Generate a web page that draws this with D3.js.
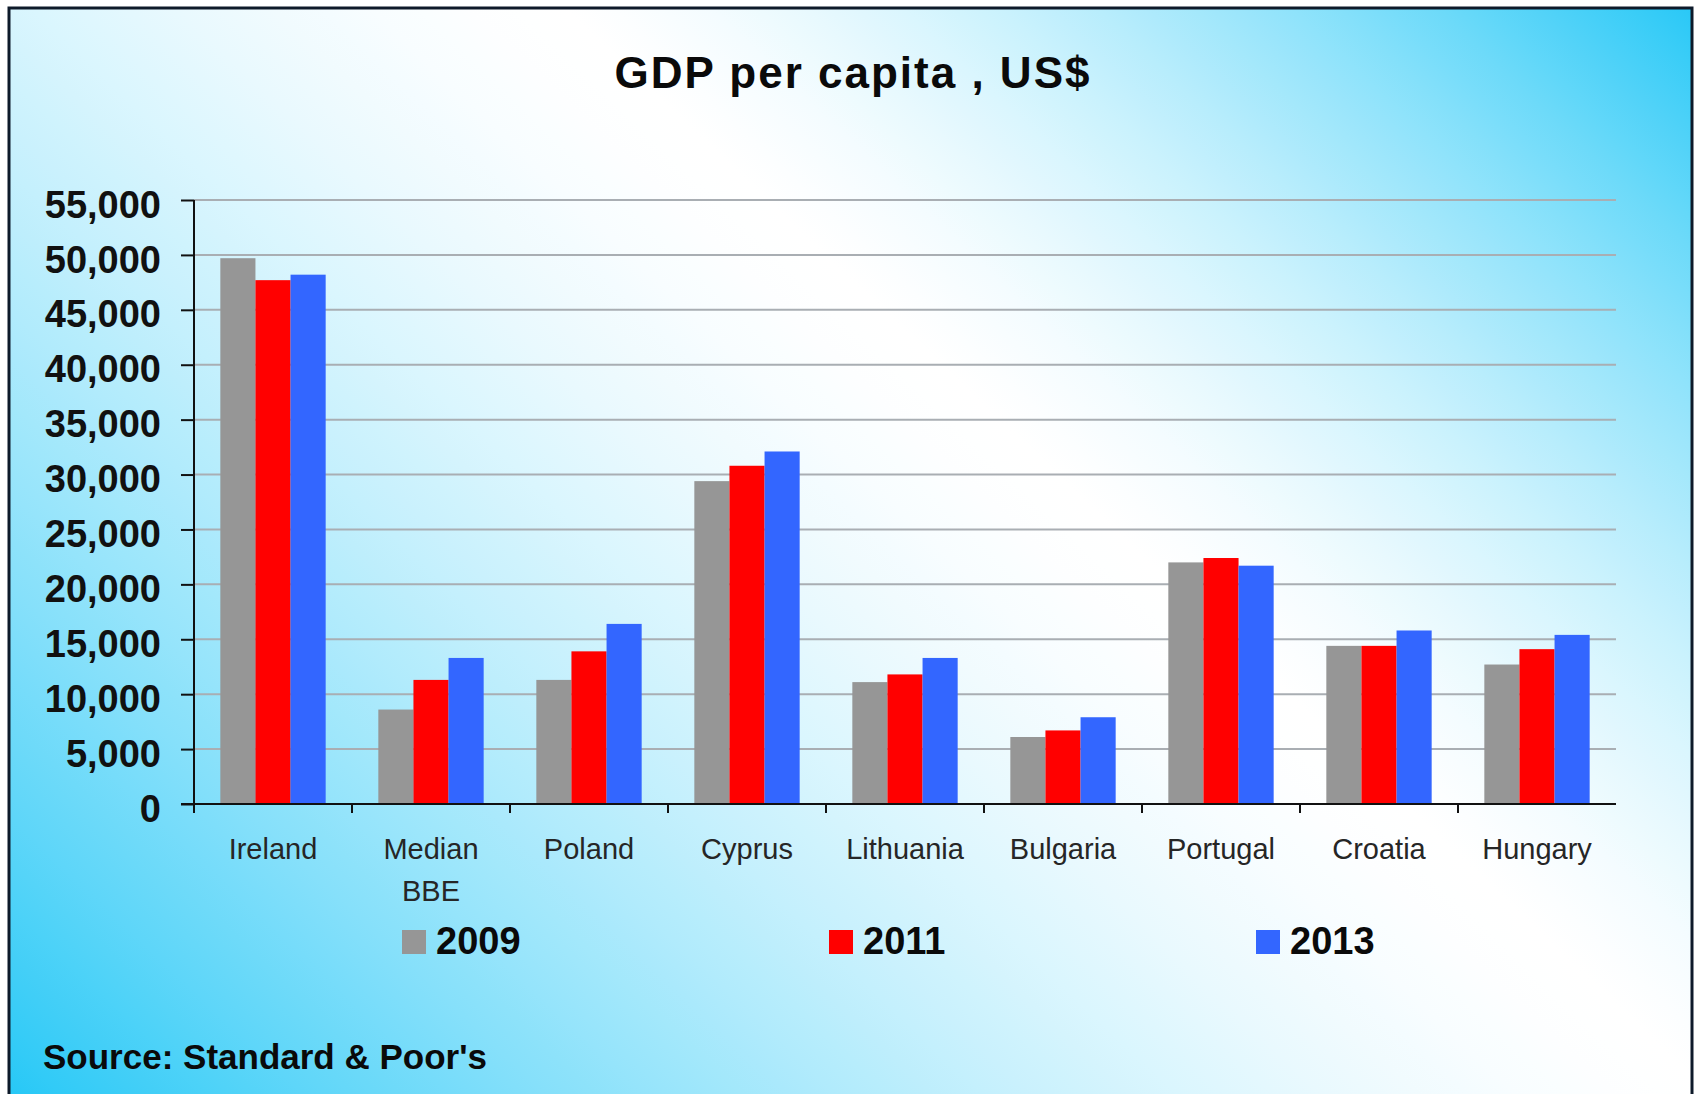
<!DOCTYPE html>
<html>
<head>
<meta charset="utf-8">
<script src="https://cdn.jsdelivr.net/npm/d3@7"></script>
<style>
  html, body { margin: 0; padding: 0; background: #ffffff; }
  svg { display: block; }
  text { font-family: "Liberation Sans", Arial, sans-serif; }
</style>
</head>
<body>
<svg id="chart" width="1696" height="1094"></svg>
<script>
// GDP per capita (US$) by country, three survey years
const categories = ["Ireland", "Median BBE", "Poland", "Cyprus", "Lithuania", "Bulgaria", "Portugal", "Croatia", "Hungary"];
const years = ["2009", "2011", "2013"];
const gdp2009 = [49700, 8600, 11300, 29400, 11100, 6100, 22000, 14400, 12700];
const gdp2011 = [47700, 11300, 13900, 30800, 11800, 6700, 22400, 14400, 14100];
const gdp2013 = [48200, 13300, 16400, 32100, 13300, 7900, 21700, 15800, 15400];
const yTicks = [0, 5000, 10000, 15000, 20000, 25000, 30000, 35000, 40000, 45000, 50000, 55000];
const seriesColors = ["#969696", "#ff0000", "#3366ff"];

const seriesValues = [gdp2009, gdp2011, gdp2013];
const rows = categories.map((c, i) => ({ category: c, values: years.map((y, j) => ({ year: y, value: seriesValues[j][i] })) }));

const svg = d3.select("#chart");
const W = 1696, H = 1094;

// ---- background panel: white diagonal band fading to cyan toward
// the bottom-left and top-right corners
const defs = svg.append("defs");
const p0 = [541, 0];                 // a point on the white band
const n = [0.688, -0.726];           // unit normal of the band, toward top-right
const sLow = -1190, sHigh = 810;     // distances where the fill is fully cyan
const grad = defs.append("linearGradient")
  .attr("id", "bg")
  .attr("gradientUnits", "userSpaceOnUse")
  .attr("x1", p0[0] + sLow * n[0]).attr("y1", p0[1] + sLow * n[1])
  .attr("x2", p0[0] + sHigh * n[0]).attr("y2", p0[1] + sHigh * n[1]);
const tw = -sLow / (sHigh - sLow);
const cyan = "#1fc6f6";
const mix = d3.interpolateRgb("#ffffff", cyan);
d3.range(0, 61).forEach(k => {
  const t = k / 60;
  const d = t < tw ? (tw - t) / tw : (t - tw) / (1 - tw);
  grad.append("stop").attr("offset", t).attr("stop-color", mix(Math.pow(d, 1.5)));
});

svg.append("rect")
  .attr("x", 9).attr("y", 8)
  .attr("width", 1683).attr("height", H + 10)
  .attr("fill", "url(#bg)")
  .attr("stroke", "#0e1a2a").attr("stroke-width", 3);

// ---- title
svg.append("text")
  .attr("x", 853).attr("y", 88)
  .attr("text-anchor", "middle")
  .attr("font-size", 44).attr("font-weight", "bold")
  .attr("letter-spacing", 2)
  .attr("fill", "#0a0a0a")
  .text("GDP per capita , US$");

// ---- scales
const plot = { left: 194, right: 1616, top: 200, bottom: 804 };
const y = d3.scaleLinear().domain([0, 55000]).range([plot.bottom, plot.top]);
const x0 = d3.scaleBand().domain(categories).range([plot.left, plot.right]).padding(0);
const bw = x0.bandwidth();
const x1 = d3.scaleBand().domain(years).range([bw / 6, bw * 5 / 6]).padding(0);
const color = d3.scaleOrdinal().domain(years).range(seriesColors);

// ---- horizontal gridlines
svg.append("g").selectAll("line")
  .data(yTicks.filter(d => d > 0))
  .join("line")
  .attr("x1", plot.left).attr("x2", plot.right)
  .attr("y1", d => y(d)).attr("y2", d => y(d))
  .attr("stroke", "#a9aeb3").attr("stroke-width", 2);

// ---- bars
const groups = svg.append("g").selectAll("g")
  .data(rows)
  .join("g")
  .attr("transform", d => `translate(${x0(d.category)},0)`);
groups.selectAll("rect")
  .data(d => d.values)
  .join("rect")
  .attr("x", d => x1(d.year))
  .attr("width", x1.bandwidth())
  .attr("y", d => y(d.value))
  .attr("height", d => y(0) - y(d.value))
  .attr("fill", d => color(d.year));

// ---- y axis
const yAxis = svg.append("g")
  .attr("transform", `translate(${plot.left},0)`)
  .call(d3.axisLeft(y).tickValues(yTicks).tickFormat(d3.format(",")).tickSize(13).tickPadding(20).tickSizeOuter(0));
yAxis.select(".domain").remove();
yAxis.selectAll(".tick line").attr("stroke", "#111").attr("stroke-width", 2);
yAxis.selectAll(".tick text")
  .attr("font-family", "'Liberation Sans', Arial, sans-serif")
  .attr("font-size", 38).attr("font-weight", "bold")
  .attr("fill", "#111").attr("dy", "0.45em");

svg.append("line")
  .attr("x1", plot.left).attr("x2", plot.left)
  .attr("y1", y(55000)).attr("y2", plot.bottom + 9)
  .attr("stroke", "#111").attr("stroke-width", 2);

// ---- x axis line and category boundary ticks
svg.append("line")
  .attr("x1", plot.left - 13).attr("x2", plot.right)
  .attr("y1", plot.bottom).attr("y2", plot.bottom)
  .attr("stroke", "#111").attr("stroke-width", 2);
svg.append("g").selectAll("line")
  .data(categories.slice(1))
  .join("line")
  .attr("x1", d => x0(d)).attr("x2", d => x0(d))
  .attr("y1", plot.bottom).attr("y2", plot.bottom + 9)
  .attr("stroke", "#111").attr("stroke-width", 2);

// ---- category labels, wrapped to the band width
const labels = svg.append("g").selectAll("text")
  .data(categories)
  .join("text")
  .attr("x", d => x0(d) + bw / 2)
  .attr("y", 859)
  .attr("text-anchor", "middle")
  .attr("font-size", 29)
  .attr("fill", "#262626");
labels.each(function (d) {
  const el = d3.select(this);
  const words = d.split(" ");
  let line = [];
  let tspan = el.append("tspan").attr("x", x0(d) + bw / 2).attr("dy", 0);
  words.forEach(w => {
    line.push(w);
    tspan.text(line.join(" "));
    if (tspan.node().getComputedTextLength() > bw - 8 && line.length > 1) {
      line.pop();
      tspan.text(line.join(" "));
      line = [w];
      tspan = el.append("tspan").attr("x", x0(d) + bw / 2).attr("dy", 42).text(w);
    }
  });
});

// ---- legend
const legend = svg.append("g").selectAll("g")
  .data(years)
  .join("g")
  .attr("transform", (d, i) => `translate(${402 + i * 427},930)`);
legend.append("rect")
  .attr("width", 24).attr("height", 24)
  .attr("fill", d => color(d));
legend.append("text")
  .attr("x", 34).attr("y", 24)
  .attr("font-size", 38).attr("font-weight", "bold")
  .attr("fill", "#0a0a0a")
  .text(d => d);

// ---- source note
svg.append("text")
  .attr("x", 43).attr("y", 1069)
  .attr("font-size", 35).attr("font-weight", "bold")
  .attr("fill", "#0a0a0a")
  .text("Source: Standard & Poor's");
</script>
</body>
</html>
